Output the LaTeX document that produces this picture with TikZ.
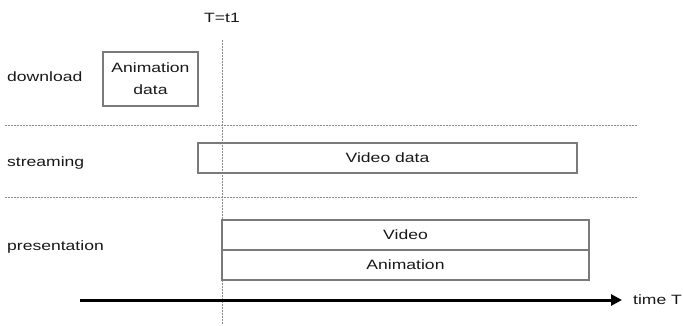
\documentclass[tikz,border=0pt]{standalone}
\usepackage{fontspec}
\setmainfont[FakeStretch=1.3]{Liberation Sans}
\usetikzlibrary{arrows.meta}
\definecolor{txt}{HTML}{181818}
\definecolor{boxc}{HTML}{7A7A7A}
\definecolor{dotc}{HTML}{8A8A8A}
\begin{document}
\begin{tikzpicture}[x=1pt,y=-1pt,
  lbl/.style={font=\fontsize{13.5}{15}\selectfont, text=txt, inner sep=0pt},
  bar/.style={draw=boxc, line width=1.2pt, inner sep=0pt, font=\fontsize{13.5}{15}\selectfont, text=txt, align=center},
  sep/.style={draw=dotc, line width=1pt, dash pattern=on 1.5pt off 1.5pt},
  axis/.style={draw=black, line width=3pt, -{Triangle[length=11pt,width=11pt]}}
]
\useasboundingbox (0,0) rectangle (683,325);
% labels
\node[lbl] (tt) at (222,18) {T=t1};
\node[lbl, anchor=west] (dl) at (7,77) {download};
\node[lbl, anchor=west] (st) at (7,163) {streaming};
\node[lbl, anchor=west] (pr) at (7,247) {presentation};
% separators
\coordinate (s1a) at (5,125); \coordinate (s1b) at (638,125);
\coordinate (s2a) at (5,197); \coordinate (s2b) at (638,197);
\draw[sep] (s1a) -- (s1b);
\draw[sep] (s2a) -- (s2b);
% vertical time marker
\coordinate (vt) at (222,40); \coordinate (vb) at (222,325);
\draw[sep] (vt) -- (vb);
% boxes
\node[bar, minimum width=95pt, minimum height=54pt, fill=white] (ani) at (150.5,79) {Animation\\[7pt]data};
\node[bar, minimum width=379pt, minimum height=30pt] (vd) at (387.5,158) {Video data};
\node[bar, minimum width=367pt, minimum height=30pt] (vp) at (405.5,235) {Video};
\node[bar, minimum width=367pt, minimum height=30pt] (ap) at (405.5,265) {Animation};
% time axis
\coordinate (a0) at (80,300);
\node[lbl, anchor=west] (tm) at (633,300) {time T};
\draw[axis] (a0) -- ([xshift=-11pt]tm.west);
\end{tikzpicture}
\end{document}
